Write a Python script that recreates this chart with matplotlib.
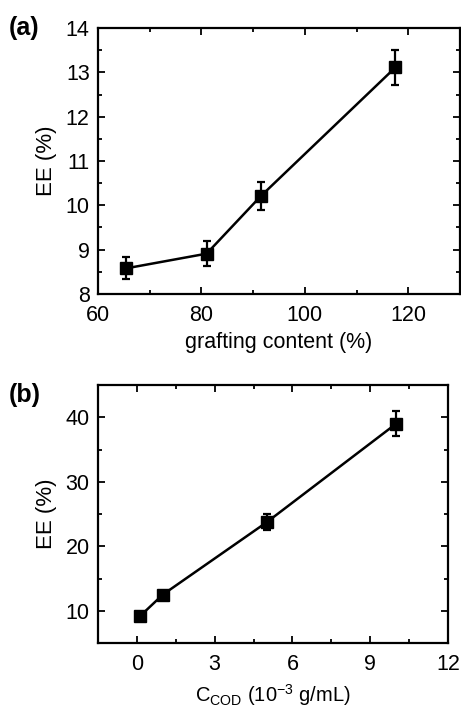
import matplotlib
matplotlib.use("Agg")
import matplotlib.pyplot as plt
from matplotlib.ticker import MultipleLocator

plt.rcParams['font.family'] = ['Liberation Sans', 'DejaVu Sans']
plt.rcParams['mathtext.fontset'] = 'custom'
plt.rcParams['mathtext.rm'] = 'Liberation Sans'

# Panel (a)
graft = [65.5, 81.0, 91.5, 117.5]
ee_a = [8.58, 8.91, 10.21, 13.11]
err_a = [0.25, 0.28, 0.31, 0.40]

# Panel (b)
ccod = [0.13, 1.0, 5.0, 10.0]
ee_b = [9.2, 12.5, 23.7, 39.0]
err_b = [0.5, 0.5, 1.25, 1.95]

W, H = 461, 707
fig = plt.figure(figsize=(W/100, H/100), dpi=100)

def style(ax):
    for s in ax.spines.values():
        s.set_linewidth(1.6)
    ax.tick_params(which='both', direction='in', top=True, right=True,
                   labelsize=15.5, width=1.3)
    ax.tick_params(axis='x', pad=8)
    ax.tick_params(axis='y', pad=6)
    ax.tick_params(which='major', length=5)
    ax.tick_params(which='minor', length=3)

ax1 = fig.add_axes([98/W, 1-294/H, 362/W, 266/H])
ax1.errorbar(graft, ee_a, yerr=err_a, color='black', marker='s', markersize=9,
             lw=1.8, elinewidth=1.6, capsize=3, capthick=1.6)
ax1.set_xlim(60, 130)
ax1.set_ylim(8, 14)
ax1.xaxis.set_major_locator(MultipleLocator(20))
ax1.xaxis.set_minor_locator(MultipleLocator(10))
ax1.yaxis.set_major_locator(MultipleLocator(1))
ax1.yaxis.set_minor_locator(MultipleLocator(0.5))
style(ax1)
ax1.set_xlabel('grafting content (%)', fontsize=15.5, labelpad=4)
ax1.set_ylabel('EE (%)', fontsize=16, labelpad=6)
fig.text(9/W, 1-28/H, '(a)', fontsize=18, fontweight='bold', va='center', ha='left')

ax2 = fig.add_axes([98/W, 1-643/H, 350/W, 258/H])
ax2.errorbar(ccod, ee_b, yerr=err_b, color='black', marker='s', markersize=8,
             lw=1.8, elinewidth=1.6, capsize=3, capthick=1.6)
ax2.set_xlim(-1.5, 12)
ax2.set_ylim(5, 45)
ax2.xaxis.set_major_locator(MultipleLocator(3))
ax2.xaxis.set_minor_locator(MultipleLocator(1.5))
ax2.yaxis.set_major_locator(MultipleLocator(10))
ax2.yaxis.set_minor_locator(MultipleLocator(5))
style(ax2)
ax2.set_xlabel(r'C$_{\mathregular{COD}}$ (10$^{\mathregular{-3}}$ g/mL)', fontsize=14.5, labelpad=5)
ax2.set_ylabel('EE (%)', fontsize=16, labelpad=6)
fig.text(9/W, 1-395/H, '(b)', fontsize=18, fontweight='bold', va='center', ha='left')

fig.savefig('out.png', dpi=100)
